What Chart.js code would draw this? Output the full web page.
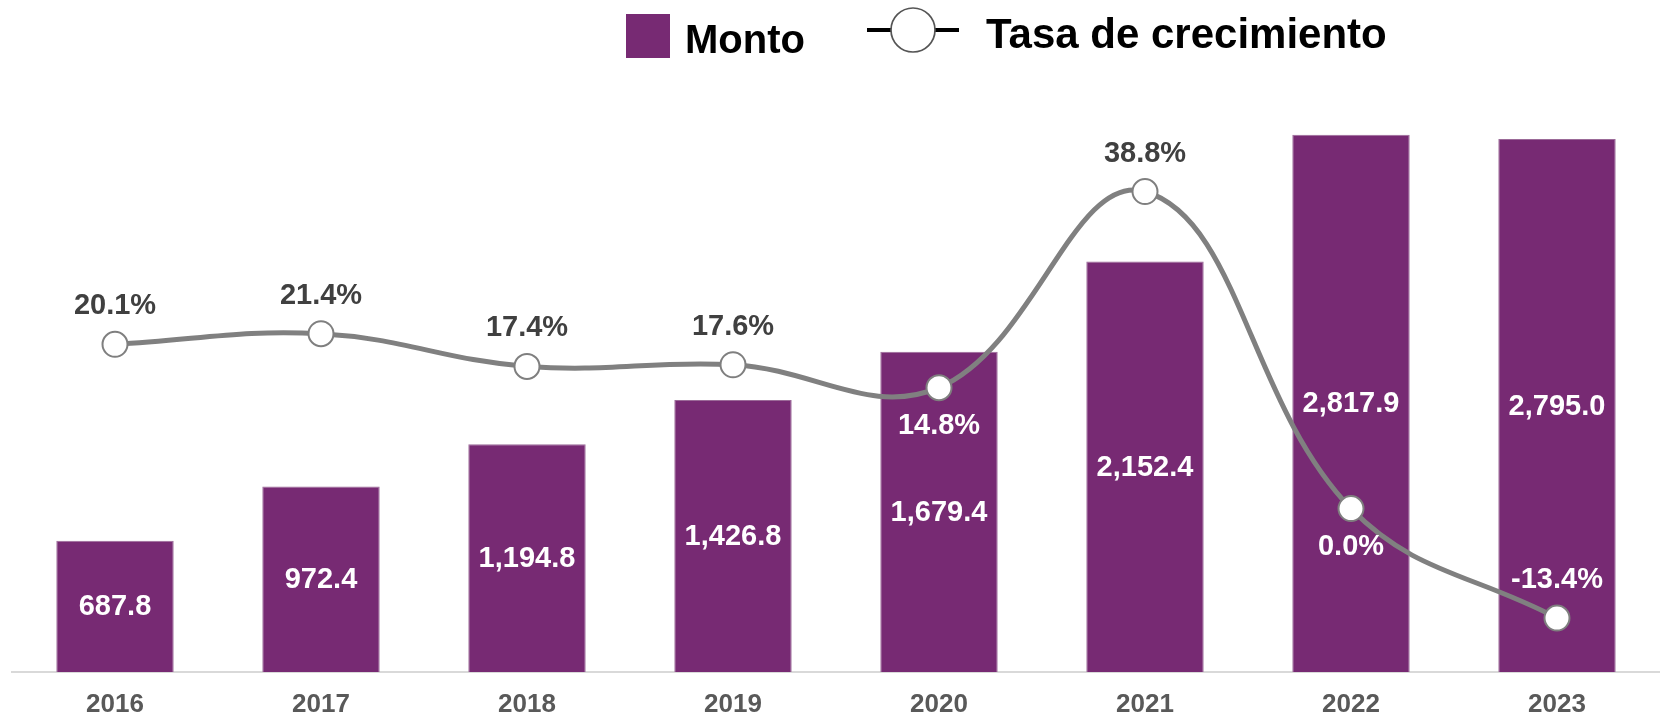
<!DOCTYPE html>
<html>
<head>
<meta charset="utf-8">
<script src="https://cdn.jsdelivr.net/npm/chart.js@4"></script>
<style>
  html, body { margin: 0; padding: 0; background: #ffffff; }
  #wrap { width: 1660px; height: 718px; overflow: hidden; }
</style>
</head>
<body>
<div id="wrap"><canvas id="c" width="1660" height="718"></canvas></div>
<script>
// ---- data ----
const years = ["2016", "2017", "2018", "2019", "2020", "2021", "2022", "2023"];
const montos = [687.8, 972.4, 1194.8, 1426.8, 1679.4, 2152.4, 2817.9, 2795.0];
const tasas = [20.1, 21.4, 17.4, 17.6, 14.8, 38.8, 0.0, -13.4];
const seriesNames = ["Monto", "Tasa de crecimiento"];

const FONT = '"Liberation Sans", Arial, Helvetica, sans-serif';
const PURPLE = '#772a73';

const fmtMonto = v => v.toLocaleString('en-US', { minimumFractionDigits: 1, maximumFractionDigits: 1 });
const fmtTasa = v => v.toFixed(1) + '%';

// label placement for the line labels (style, not data)
const tasaLabelSide = ['above', 'above', 'above', 'above', 'below', 'above', 'below', 'above'];

const legendPlugin = {
  id: 'customLegend',
  afterDraw(chart) {
    const ctx = chart.ctx;
    ctx.save();
    // Monto
    ctx.fillStyle = PURPLE;
    ctx.fillRect(626, 14, 44, 44);
    ctx.fillStyle = '#000000';
    ctx.textAlign = 'left';
    ctx.textBaseline = 'alphabetic';
    ctx.font = 'bold 40px ' + FONT;
    ctx.fillText(seriesNames[0], 685, 53);
    // Tasa de crecimiento
    ctx.strokeStyle = '#000000';
    ctx.lineWidth = 4;
    ctx.beginPath();
    ctx.moveTo(867, 30);
    ctx.lineTo(959, 30);
    ctx.stroke();
    ctx.beginPath();
    ctx.arc(913, 30, 22, 0, Math.PI * 2);
    ctx.fillStyle = '#ffffff';
    ctx.fill();
    ctx.lineWidth = 1.7;
    ctx.strokeStyle = '#555555';
    ctx.stroke();
    ctx.fillStyle = '#000000';
    ctx.font = 'bold 42px ' + FONT;
    ctx.fillText(seriesNames[1], 986, 48);
    ctx.restore();
  }
};

const labelsPlugin = {
  id: 'valueLabels',
  afterDatasetsDraw(chart) {
    const ctx = chart.ctx;
    ctx.save();
    ctx.textAlign = 'center';
    ctx.textBaseline = 'middle';
    const barMeta = chart.getDatasetMeta(0);
    ctx.font = 'bold 29px ' + FONT;
    ctx.fillStyle = '#ffffff';
    const rects = [];
    barMeta.data.forEach((el, i) => {
      const p = el.getProps(['x', 'y', 'base', 'width'], true);
      rects.push(p);
      ctx.fillText(fmtMonto(montos[i]), p.x, (p.y + p.base) / 2 + 1);
    });
    const lineMeta = chart.getDatasetMeta(1);
    ctx.font = 'bold 29px ' + FONT;
    lineMeta.data.forEach((el, i) => {
      const below = tasaLabelSide[i] === 'below';
      const ly = el.y + (below ? 38 : -38);
      const r = rects[i];
      const inside = ly > r.y && ly < r.base && Math.abs(el.x - r.x) < r.width / 2;
      ctx.fillStyle = inside ? '#ffffff' : '#404040';
      ctx.fillText(fmtTasa(tasas[i]), el.x, ly);
    });
    ctx.restore();
  }
};

new Chart(document.getElementById('c'), {
  data: {
    labels: years,
    datasets: [
      {
        type: 'bar',
        label: seriesNames[0],
        data: montos,
        yAxisID: 'y',
        backgroundColor: PURPLE,
        borderColor: '#9b6a98',
        borderWidth: 1,
        categoryPercentage: 1.0,
        barPercentage: 0.57,
        order: 2
      },
      {
        type: 'line',
        label: seriesNames[1],
        data: tasas,
        yAxisID: 'y1',
        borderColor: '#808080',
        borderWidth: 5,
        tension: 0.4,
        pointRadius: 12.5,
        pointHoverRadius: 12.5,
        pointBackgroundColor: '#ffffff',
        pointBorderColor: '#7f7f7f',
        pointBorderWidth: 2,
        clip: false,
        order: 1
      }
    ]
  },
  options: {
    responsive: false,
    devicePixelRatio: 1,
    animation: false,
    layout: { autoPadding: false, padding: { left: 12, right: 0, top: 100, bottom: 0 } },
    plugins: {
      legend: { display: false },
      tooltip: { enabled: false }
    },
    scales: {
      x: {
        grid: { display: false, drawTicks: false },
        border: { display: true, color: '#d9d9d9', width: 2 },
        ticks: {
          color: '#595959',
          font: { family: FONT, size: 26, weight: 'bold' },
          padding: 17
        },
        afterFit(scale) { scale.height = 46; }
      },
      y: {
        display: false,
        min: 0,
        max: 3000
      },
      y1: {
        display: false,
        min: -20,
        max: 50
      }
    }
  },
  plugins: [labelsPlugin, legendPlugin]
});
</script>
</body>
</html>
